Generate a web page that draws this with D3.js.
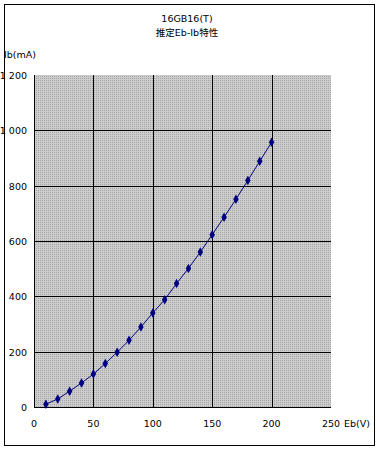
<!DOCTYPE html>
<html><head><meta charset="utf-8">
<script src="https://cdn.jsdelivr.net/npm/d3@7"></script>
<style>body{margin:0;background:#fff}svg{display:block}text{font-family:"DejaVu Sans","Noto Sans CJK JP",sans-serif;font-size:9.5px;fill:#000}</style>
</head><body><div id="c"></div>
<script>
const titleLines = ["16GB16(T)", "推定Eb-Ib特性"];
const ebValues = [10,20,30,40,50,60,70,80,90,100,110,120,130,140,150,160,170,180,190,200];
const ibValues = [10,29,57,87,119,157,198,241,289,340,388,446,501,560,623,686,751,819,888,957];
const xTicks = [0,50,100,150,200,250];
const yTicks = [0,200,400,600,800,1000,1200];
const xLabel = "Eb(V)", yLabel = "Ib(mA)";

const W=380,H=450;
const svg=d3.select("#c").append("svg").attr("width",W).attr("height",H);
svg.append("rect").attr("x",4.5).attr("y",4.5).attr("width",370).attr("height",441).attr("fill","#fff").attr("stroke","#000").attr("stroke-width",1);

const defs=svg.append("defs");
const pat=defs.append("pattern").attr("id","dots").attr("width",2).attr("height",2).attr("patternUnits","userSpaceOnUse");
pat.append("rect").attr("width",2).attr("height",2).attr("fill","#cdcdcd");
pat.append("rect").attr("width",1).attr("height",1).attr("fill","#a4a4a4");

const x=d3.scaleLinear().domain([0,250]).range([34,331]);
const y=d3.scaleLinear().domain([0,1200]).range([407,75]);

svg.append("rect").attr("x",x(0)).attr("y",y(1200)).attr("width",x(250)-x(0)).attr("height",y(0)-y(1200)).attr("fill","url(#dots)");

const g=svg.append("g").attr("shape-rendering","crispEdges");
g.selectAll(".vg").data(xTicks.filter(d=>d>0&&d<250)).join("line")
 .attr("x1",d=>Math.round(x(d))+0.5).attr("x2",d=>Math.round(x(d))+0.5).attr("y1",y(1200)).attr("y2",y(0)).attr("stroke","#000");
g.selectAll(".hg").data(yTicks.filter(d=>d>0&&d<1200)).join("line")
 .attr("y1",d=>Math.round(y(d))+0.5).attr("y2",d=>Math.round(y(d))+0.5).attr("x1",x(0)).attr("x2",x(250)).attr("stroke","#000");
g.append("line").attr("x1",x(0)+0.5).attr("x2",x(0)+0.5).attr("y1",y(1200)).attr("y2",y(0)).attr("stroke","#000");
g.append("line").attr("x1",x(0)).attr("x2",x(250)).attr("y1",y(0)+0.5).attr("y2",y(0)+0.5).attr("stroke","#000");

const fmt=d=>d>=1000?String(Math.floor(d/1000))+" "+String(d%1000).padStart(3,"0"):String(d);
svg.selectAll(".yt").data(yTicks).join("text").attr("x",27).attr("y",d=>y(d)+4).attr("text-anchor","end").text(fmt);
svg.selectAll(".xt").data(xTicks).join("text").attr("x",d=>x(d)).attr("y",427).attr("text-anchor","middle").text(d=>d);
svg.append("text").attr("x",344).attr("y",427).text(xLabel);
svg.append("text").attr("x",4).attr("y",58).text(yLabel);
svg.selectAll(".tt").data(titleLines).join("text").attr("x",187).attr("y",(d,i)=>22+i*14).attr("text-anchor","middle").text(d=>d);

const pts=ebValues.map((e,i)=>[e,ibValues[i]]);
svg.append("path").datum(pts).attr("d",d3.line().x(d=>x(d[0])).y(d=>y(d[1]))).attr("fill","none").attr("stroke","#000080").attr("stroke-width",1);
svg.selectAll(".m").data(pts).join("path").attr("d",d3.symbol(d3.symbolDiamond,26)).attr("transform",d=>`translate(${x(d[0])},${y(d[1])})`).attr("fill","#000080");
</script></body></html>
